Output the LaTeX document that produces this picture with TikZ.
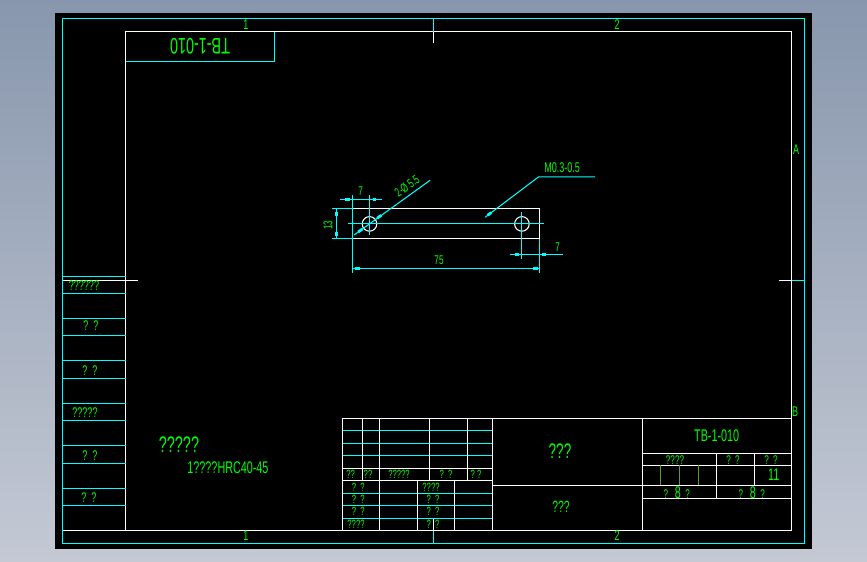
\documentclass[tikz,border=0pt]{standalone}
\usepackage{fontspec}
\newfontfamily\cadfont[FakeStretch=0.64]{Liberation Sans}
\definecolor{cadcyan}{RGB}{0,255,255}
\definecolor{cadgreen}{RGB}{0,255,0}
\definecolor{cadolive}{RGB}{100,150,50}
\definecolor{sheettop}{RGB}{136,151,173}
\definecolor{sheetbot}{RGB}{196,201,212}
\tikzset{
    cyanline/.style={cadcyan,line width=0.75pt,xshift=0.05mm,yshift=-0.05mm},
    whiteline/.style={white,line width=0.75pt,xshift=0.05mm,yshift=-0.05mm},
    dimtick/.style={cadcyan,line width=2pt,xshift=0.05mm,yshift=-0.05mm},
    lbl/.style={text=cadgreen,inner sep=0pt,font=\cadfont\fontsize{#1}{#1}\selectfont},
    lbl/.default=8
}
\begin{document}
    \begin{tikzpicture}[x=0.25mm,y=-0.25mm]
        \shade[top color=sheettop,bottom color=sheetbot] (0, 0) rectangle (867, 562);
        \fill[black] (55, 13) rectangle (811.5, 549);
        \draw[cyanline] (62.3, 18.3) rectangle (804.3, 543.3);
        \draw[whiteline] (125.3, 31.3) rectangle (791.3, 530.3);
        \draw[cyanline] (433.3, 18.3) -- (433.3, 31.3);
        \draw[whiteline] (433.3, 31.3) -- (433.3, 43);
        \draw[cyanline] (433.3, 530.3) -- (433.3, 543.3);
        \draw[whiteline] (433.3, 518.3) -- (433.3, 530.3);
        \draw[whiteline] (62.3, 280.3) -- (138, 280.3);
        \draw[whiteline] (779, 280.3) -- (791.3, 280.3);
        \draw[cyanline] (791.3, 280.3) -- (804.3, 280.3);
        \draw[cyanline] (125.3, 61.3) -- (274.3, 61.3) -- (274.3, 31.3);
        \foreach \y in {276.3, 293.3, 318.3, 335.3, 360.3, 378.3, 403.3, 420.3, 445.3, 463.3, 488.3, 505.3}
            \draw[cyanline] (62.3, \y) -- (125.3, \y);
        \draw[whiteline] (62.3, 530.3) -- (125.3, 530.3);
        \draw[whiteline] (342.3, 418.3) rectangle (791.3, 530.3);
        \foreach \y in {430.3, 443.3, 455.3, 493.3, 505.3, 518.3}
            \draw[cyanline] (342.3, \y) -- (492.3, \y);
        \foreach \y in {468.3, 480.3}
            \draw[whiteline] (342.3, \y) -- (492.3, \y);
        \foreach \x in {362.3, 429.3, 467.3}
            \draw[whiteline] (\x, 418.3) -- (\x, 480.3);
        \foreach \x in {379.3, 492.3, 642.3}
            \draw[whiteline] (\x, 418.3) -- (\x, 530.3);
        \foreach \x in {417.3, 454.3}
            \draw[whiteline] (\x, 480.3) -- (\x, 530.3);
        \foreach \y in {453.3, 465.3, 498.3}
            \draw[whiteline] (642.3, \y) -- (791.3, \y);
        \draw[whiteline] (492.3, 485.3) -- (791.3, 485.3);
        \draw[whiteline] (716.3, 453.3) -- (716.3, 498.3);
        \draw[whiteline] (754.3, 453.3) -- (754.3, 485.3);
        \foreach \x in {660.3, 679.3, 698.3}
            \draw[cadolive,line width=0.75pt] (\x, 465.3) -- (\x, 485.3);
        \draw[whiteline] (352.3, 208.3) rectangle (539.3, 238.3);
        \draw[whiteline] (369.3, 223.7) circle (7.3);
        \draw[whiteline] (521.7, 223.7) circle (7.3);
        \draw[cyanline] (348, 223.3) -- (544, 223.3);
        \draw[cyanline] (369.3, 195) -- (369.3, 235);
        \draw[cyanline] (521.7, 211.7) -- (521.7, 259);
        \draw[cyanline] (352.3, 195) -- (352.3, 272.7);
        \draw[cyanline] (539.3, 238.3) -- (539.3, 272.7);
        \draw[cyanline] (332, 208.3) -- (352.3, 208.3);
        \draw[cyanline] (332, 238.3) -- (352.3, 238.3);
        \draw[cyanline] (340, 199.3) -- (382, 199.3);
        \draw[dimtick] (345, 199.3) -- (350, 199.3);
        \draw[dimtick] (372.3, 199.3) -- (376, 199.3);
        \draw[cyanline] (336.3, 208.3) -- (336.3, 238.3);
        \draw[dimtick] (336.3, 212) -- (336.3, 216);
        \draw[dimtick] (336.3, 232) -- (336.3, 236);
        \draw[cyanline] (352.3, 268.3) -- (539.3, 268.3);
        \draw[dimtick] (354.7, 268.3) -- (359.3, 268.3);
        \draw[dimtick] (532.7, 268.3) -- (537.3, 268.3);
        \draw[cyanline] (510, 254.3) -- (562.7, 254.3);
        \draw[dimtick] (515, 254.3) -- (519, 254.3);
        \draw[dimtick] (542, 254.3) -- (546, 254.3);
        \draw[cyanline] (354, 234.7) -- (430, 180);
        \draw[dimtick] (358, 231.8) -- (362, 228.9);
        \draw[dimtick] (377, 218) -- (381, 215.1);
        \draw[cyanline] (485, 217) -- (538.3, 176.7) -- (595, 176.7);
        \draw[dimtick] (487.5, 215) -- (491, 212.4);
        \node[lbl=9] (dimTop) at (360.7, 191) {7};
        \node[lbl=9,rotate=90] (dimHeight) at (328, 225) {13};
        \node[lbl=9] (dimLength) at (439, 260) {75};
        \node[lbl=9] (dimRight) at (557.7, 246.7) {7};
        \node[lbl=9,rotate=36] (dimHoles) at (407, 186) {2-Ø 5.5};
        \node[lbl=10,anchor=west] (dimChamfer) at (544, 168) {M0.3-0.5};
        \node[lbl=16,rotate=180] (drawNoTop) at (200, 46.7) {TB-1-010};
        \foreach \x/\y/\t [count=\i] in {246/25/1, 617/25/2, 246/536/1, 617/536/2, 796/150/A, 795/411.7/B}
            \node[lbl=10] (zone\i) at (\x, \y) {\t};
        \foreach \x/\y/\t [count=\i] in {84/286/??????, 91/326/?\ \ ?, 90/371/?\ \ ?, 85/413/?????, 90/456/?\ \ ?, 89/498/?\ \ ?}
            \node[lbl=10] (side\i) at (\x, \y) {\t};
        \foreach \x/\t [count=\i] in {350.7/??, 368/??, 399/?????, 446/?\ \ ?, 476/?\ ?}
            \node[lbl=8.5] (head\i) at (\x, 474.5) {\t};
        \foreach \x/\y/\t [count=\i] in {358.3/487/?\ \ ?, 358.3/499/?\ \ ?, 358.3/511.7/?\ \ ?, 356/524/????, 431/487/????, 433/499/?\ \ ?, 433/511.7/?\ \ ?, 433/524/?\ \ ?}
            \node[lbl=8.5] (sign\i) at (\x, \y) {\t};
        \node[lbl=15] (partName) at (560, 451) {???};
        \node[lbl=11.5] (material) at (561, 507) {???};
        \node[lbl=12] (drawNo) at (716.7, 436) {TB-1-010};
        \foreach \x/\t [count=\i] in {675/????, 733/?\ \ ?, 771/?\ \ ?}
            \node[lbl=9] (scale\i) at (\x, 460) {\t};
        \node[lbl=12] (qty) at (773.7, 475) {11};
        \node[lbl=9] (sheetA) at (676.7, 492.7) {?\ \ \ {\fontsize{12}{12}\selectfont 8}\ \ ?};
        \node[lbl=9] (sheetB) at (751.7, 492.7) {?\ \ \ {\fontsize{12}{12}\selectfont 8}\ \ ?};
        \node[lbl=16] (noteHead) at (179, 445) {?????};
        \node[lbl=12] (noteBody) at (228, 468) {1????HRC40-45};
    \end{tikzpicture}
\end{document}
